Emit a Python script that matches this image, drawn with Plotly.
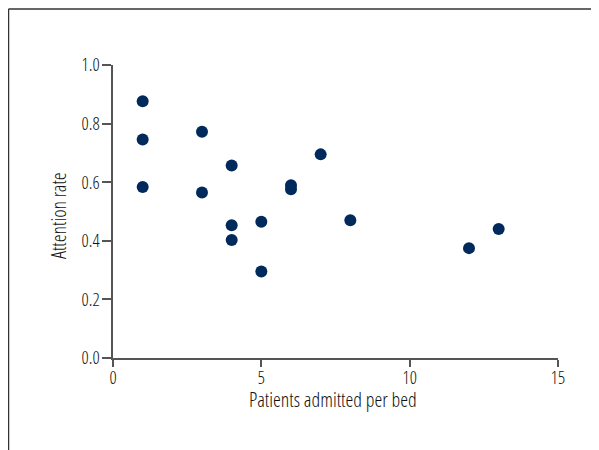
import plotly.graph_objects as go

patients = [1, 1, 1, 3, 3, 4, 4, 4, 5, 5, 6, 6, 7, 8, 12, 13]
attention = [0.876, 0.746, 0.584, 0.772, 0.565, 0.657, 0.453, 0.403, 0.465, 0.295, 0.590, 0.576, 0.695, 0.470, 0.375, 0.440]
x_ticks = [0, 5, 10, 15]
y_ticks = [0.0, 0.2, 0.4, 0.6, 0.8, 1.0]
y_tick_text = ["0.0", "0.2", "0.4", "0.6", "0.8", "1.0"]
x_title = "Patients admitted per bed"
y_title = "Attention rate"

FONT = "Open Sans Condensed Light, Open Sans, sans-serif"
TEXT = "#111111"

fig = go.Figure(go.Scatter(
    x=patients, y=attention, mode="markers",
    marker=dict(size=12, color="#002a5c", line=dict(width=0)),
    cliponaxis=False,
))

W, H = 599, 450
L, R, T, B = 105, 49, 57, 100
pw, ph = W - L - R, H - T - B

def px_x(p):
    return (p - L) / pw

def px_y(p):
    return (H - B - p) / ph

fig.update_layout(
    width=W, height=H,
    margin=dict(l=L, r=R, t=T, b=B, pad=0),
    paper_bgcolor="white", plot_bgcolor="white",
    showlegend=False,
    font=dict(family=FONT, size=18, color=TEXT),
    xaxis=dict(
        range=[0, 15], tickvals=x_ticks, ticks="outside", ticklen=7,
        tickcolor="#555555", tickwidth=1.5, showline=True, linecolor="#555555",
        linewidth=1.5, showgrid=False, zeroline=False, ticklabelstandoff=-4,
        tickfont=dict(family=FONT, size=18, color=TEXT),
    ),
    yaxis=dict(
        range=[0, 1], tickvals=y_ticks, ticktext=y_tick_text, ticks="outside", ticklen=9,
        tickcolor="#555555", tickwidth=1.5, showline=True, linecolor="#555555",
        linewidth=1.5, showgrid=False, zeroline=False, ticklabelstandoff=-1,
        tickfont=dict(family=FONT, size=18, color=TEXT),
    ),
    annotations=[
        dict(text=x_title, xref="paper", yref="paper", x=px_x(325), y=px_y(391),
             xanchor="center", yanchor="middle", showarrow=False,
             font=dict(family=FONT, size=20, color=TEXT)),
        dict(text=y_title, xref="paper", yref="paper", x=px_x(50), y=px_y(208),
             xanchor="center", yanchor="middle", showarrow=False, textangle=-90,
             font=dict(family=FONT, size=20, color=TEXT)),
    ],
    shapes=[
        dict(type="line", xref="paper", yref="paper", x0=px_x(0.5), x1=px_x(605),
             y0=px_y(1), y1=px_y(1), line=dict(color="#333333", width=1.5)),
        dict(type="line", xref="paper", yref="paper", x0=px_x(0.5), x1=px_x(0.5),
             y0=px_y(1), y1=px_y(455), line=dict(color="#333333", width=1.5)),
    ],
)

fig.write_html("out.html")
